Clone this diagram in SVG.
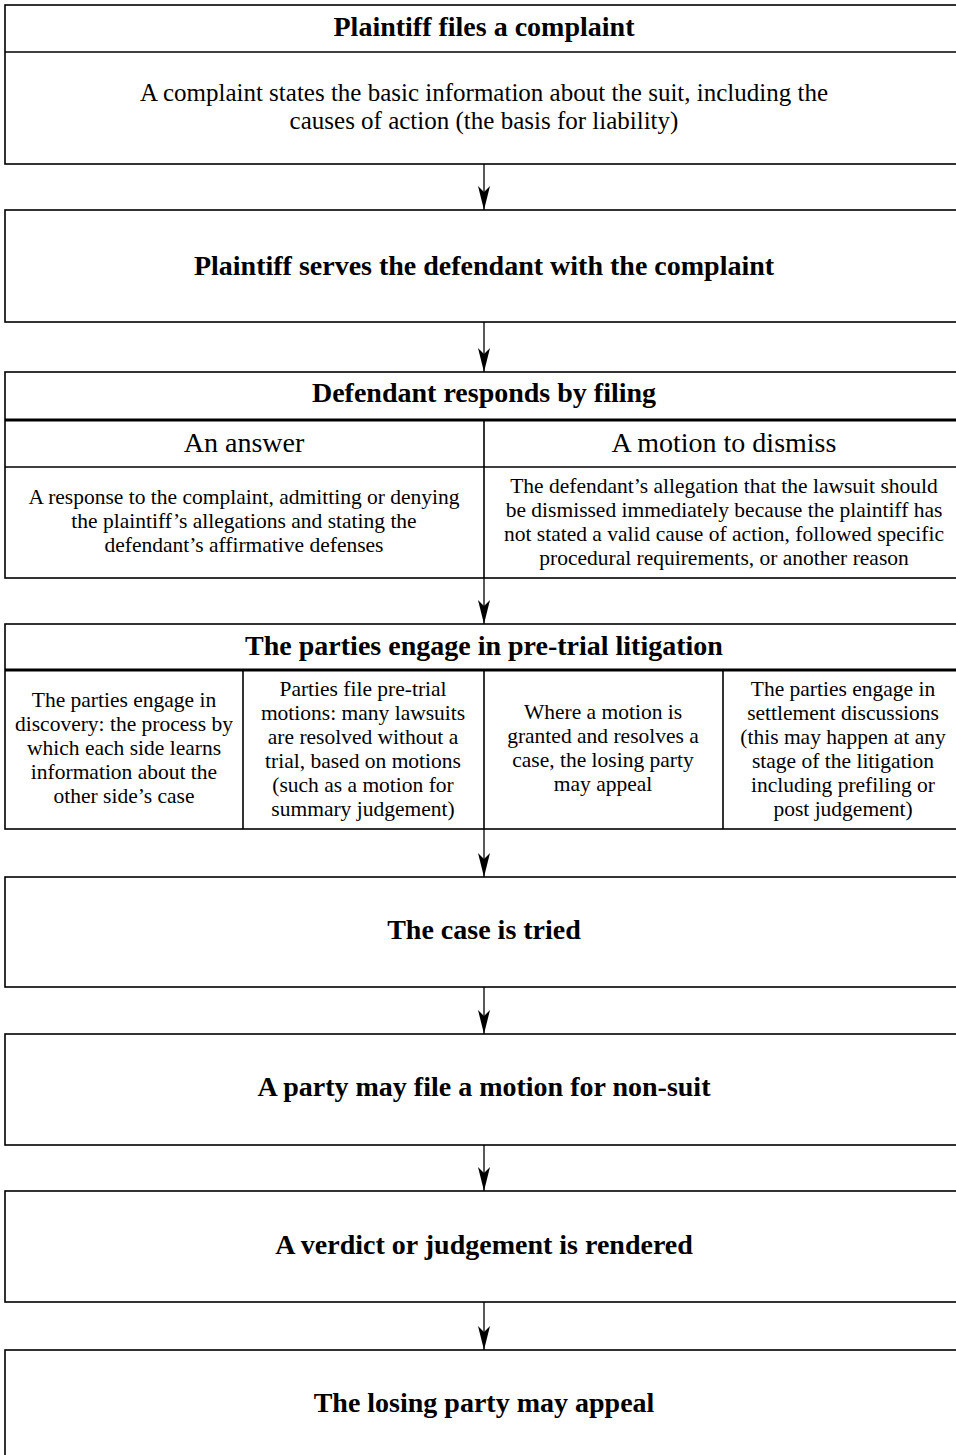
<svg xmlns="http://www.w3.org/2000/svg" width="956" height="1455" viewBox="0 0 956 1455">
<style>
.box{fill:#fff;stroke:#000;stroke-width:1.6}
.sep{stroke:#000;stroke-width:1.6;fill:none}
.thick{stroke:#000;stroke-width:3;fill:none}
.t{font-family:"Liberation Serif",serif;font-weight:bold;font-size:28px;text-anchor:middle;fill:#000}
.h{font-family:"Liberation Serif",serif;font-size:28px;text-anchor:middle;fill:#000}
.b{font-family:"Liberation Serif",serif;font-size:25px;text-anchor:middle;fill:#000}
.s{font-family:"Liberation Serif",serif;font-size:21.5px;text-anchor:middle;fill:#000}
.c{stroke:#000;stroke-width:1.3;fill:none;marker-end:url(#ah)}
</style>
<defs>
<marker id="ah" viewBox="0 0 24 14" refX="24" refY="7" markerWidth="24" markerHeight="14" markerUnits="userSpaceOnUse" orient="auto">
<path d="M0,1 L24,7 L0,13 L6,7 z" fill="#000"/>
</marker>
</defs>
<rect width="956" height="1455" fill="#fff"/>
<g id="connectors">
<line class="c" x1="484" y1="164" x2="484" y2="210"/>
<line class="c" x1="484" y1="322" x2="484" y2="372"/>
<line class="c" x1="484" y1="578" x2="484" y2="624"/>
<line class="c" x1="484" y1="829" x2="484" y2="877"/>
<line class="c" x1="484" y1="987" x2="484" y2="1034"/>
<line class="c" x1="484" y1="1145" x2="484" y2="1191"/>
<line class="c" x1="484" y1="1302" x2="484" y2="1350"/>
</g>
<g id="n1">
<rect class="box" x="5" y="5" width="960" height="159"/>
<line class="sep" x1="5" y1="52" x2="965" y2="52"/>
<text class="t" x="484" y="36">Plaintiff files a complaint</text>
<text class="b" x="484" y="101">A complaint states the basic information about the suit, including the</text>
<text class="b" x="484" y="129">causes of action (the basis for liability)</text>
</g>
<g id="n2">
<rect class="box" x="5" y="210" width="960" height="112"/>
<text class="t" x="484" y="275">Plaintiff serves the defendant with the complaint</text>
</g>
<g id="n3">
<rect class="box" x="5" y="372" width="960" height="206"/>
<line class="thick" x1="5" y1="420" x2="965" y2="420"/>
<line class="sep" x1="5" y1="467" x2="965" y2="467"/>
<line class="sep" x1="484" y1="420" x2="484" y2="578"/>
<text class="t" x="484" y="402">Defendant responds by filing</text>
<text class="h" x="244" y="452">An answer</text>
<text class="h" x="724" y="452">A motion to dismiss</text>
<text class="s" x="244" y="504">A response to the complaint, admitting or denying</text>
<text class="s" x="244" y="528">the plaintiff’s allegations and stating the</text>
<text class="s" x="244" y="552">defendant’s affirmative defenses</text>
<text class="s" x="724" y="493">The defendant’s allegation that the lawsuit should</text>
<text class="s" x="724" y="517">be dismissed immediately because the plaintiff has</text>
<text class="s" x="724" y="541">not stated a valid cause of action, followed specific</text>
<text class="s" x="724" y="565">procedural requirements, or another reason</text>
</g>
<g id="n4">
<rect class="box" x="5" y="624" width="960" height="205"/>
<line class="thick" x1="5" y1="670" x2="965" y2="670"/>
<line class="sep" x1="243" y1="670" x2="243" y2="829"/>
<line class="sep" x1="484" y1="670" x2="484" y2="829"/>
<line class="sep" x1="723" y1="670" x2="723" y2="829"/>
<text class="t" x="484" y="655">The parties engage in pre-trial litigation</text>
<text class="s" x="124" y="707">The parties engage in</text>
<text class="s" x="124" y="731">discovery: the process by</text>
<text class="s" x="124" y="755">which each side learns</text>
<text class="s" x="124" y="779">information about the</text>
<text class="s" x="124" y="803">other side’s case</text>
<text class="s" x="363" y="696">Parties file pre-trial</text>
<text class="s" x="363" y="720">motions: many lawsuits</text>
<text class="s" x="363" y="744">are resolved without a</text>
<text class="s" x="363" y="768">trial, based on motions</text>
<text class="s" x="363" y="792">(such as a motion for</text>
<text class="s" x="363" y="816">summary judgement)</text>
<text class="s" x="603" y="719">Where a motion is</text>
<text class="s" x="603" y="743">granted and resolves a</text>
<text class="s" x="603" y="767">case, the losing party</text>
<text class="s" x="603" y="791">may appeal</text>
<text class="s" x="843" y="696">The parties engage in</text>
<text class="s" x="843" y="720">settlement discussions</text>
<text class="s" x="843" y="744">(this may happen at any</text>
<text class="s" x="843" y="768">stage of the litigation</text>
<text class="s" x="843" y="792">including prefiling or</text>
<text class="s" x="843" y="816">post judgement)</text>
</g>
<g id="n5">
<rect class="box" x="5" y="877" width="960" height="110"/>
<text class="t" x="484" y="939">The case is tried</text>
</g>
<g id="n6">
<rect class="box" x="5" y="1034" width="960" height="111"/>
<text class="t" x="484" y="1096">A party may file a motion for non-suit</text>
</g>
<g id="n7">
<rect class="box" x="5" y="1191" width="960" height="111"/>
<text class="t" x="484" y="1254">A verdict or judgement is rendered</text>
</g>
<g id="n8">
<rect class="box" x="5" y="1350" width="960" height="120"/>
<text class="t" x="484" y="1412">The losing party may appeal</text>
</g>
</svg>
